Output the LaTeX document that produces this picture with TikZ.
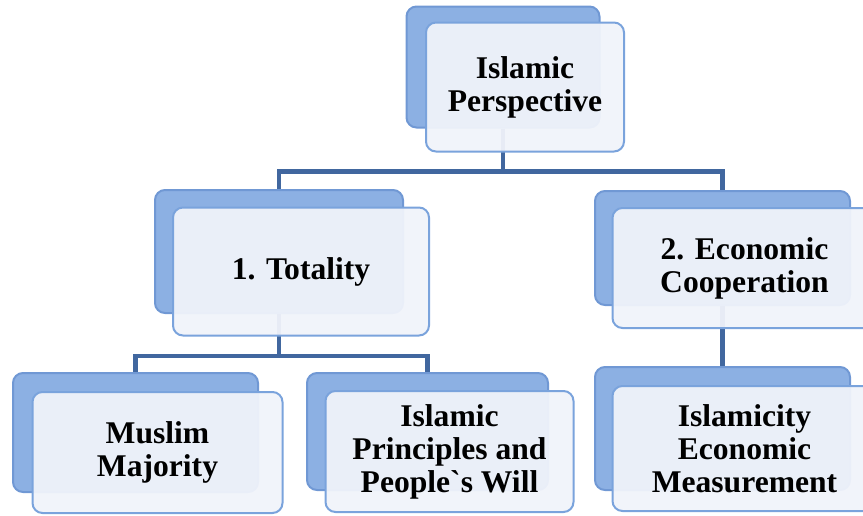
\documentclass[tikz,border=0pt]{standalone}
\usepackage{fontspec}
\setmainfont{Liberation Serif}
\usetikzlibrary{positioning}
\definecolor{linkblue}{RGB}{65,103,159}
\definecolor{backblue}{RGB}{140,176,227}
\definecolor{backedge}{RGB}{112,152,212}
\definecolor{frontfill}{RGB}{240,243,250}
\definecolor{frontedge}{RGB}{122,163,220}
\newcommand{\TierFont}{\fontsize{15.8}{16.5}\selectfont\bfseries}

\tikzset{
	backbox/.style={draw=backedge, fill=backblue, line width=1pt, rounded corners=5pt, inner sep=0pt},
	frontbox/.style={draw=frontedge, fill=frontfill, fill opacity=0.95, text opacity=1, line width=1pt,
		rounded corners=5pt, inner sep=0pt, align=center, font=\TierFont, on grid, below right=of #1},
	link/.style={draw=linkblue, line width=2.3pt}
}

\begin{document}
\begin{tikzpicture}[x=0.5pt, y=-0.5pt, node distance=10pt and 11pt]
	\useasboundingbox (0,0) rectangle (863,515);
	\clip (0,0) rectangle (863,515);

	% back boxes
	\node[backbox, minimum width=96.5pt, minimum height=60.5pt] (topB) at (503,67) {};
	\node[backbox, minimum width=124pt, minimum height=61.5pt] (totB) at (279,251.5) {};
	\node[backbox, minimum width=127.5pt, minimum height=57pt] (ecoB) at (722.5,248) {};
	\node[backbox, minimum width=122.5pt, minimum height=59.5pt] (musB) at (135.5,432.5) {};
	\node[backbox, minimum width=120.5pt, minimum height=58.5pt] (priB) at (427.5,431.5) {};
	\node[backbox, minimum width=127.5pt, minimum height=61.5pt] (islB) at (722.5,428.5) {};

	% links
	\draw[link] (topB.south) -- ++(0,43) coordinate (topFork) -| (totB.north);
	\draw[link] (topFork) -| (ecoB.north);
	\draw[link] (totB.south) -- ++(0,42) coordinate (totFork) -| (musB.north);
	\draw[link] (totFork) -| (priB.north);
	\draw[link] (ecoB.south) -- (islB.north);

	% front boxes
	\node[frontbox=topB, minimum width=99pt, minimum height=64.5pt] (top) {Islamic\\Perspective};
	\node[frontbox=totB, minimum width=128pt, minimum height=64pt] (tot) {1. Totality};
	\node[frontbox=ecoB, minimum width=132pt, minimum height=60pt] (eco) {2. Economic\\Cooperation};
	\node[frontbox=musB, minimum width=125pt, minimum height=60.5pt] (mus) {Muslim\\Majority};
	\node[frontbox=priB, minimum width=124pt, minimum height=60.5pt] (pri) {Islamic\\Principles and\\People\textasciigrave s Will};
	\node[frontbox=islB, minimum width=132pt, minimum height=62.5pt] (isl) {Islamicity\\Economic\\Measurement};
\end{tikzpicture}
\end{document}
